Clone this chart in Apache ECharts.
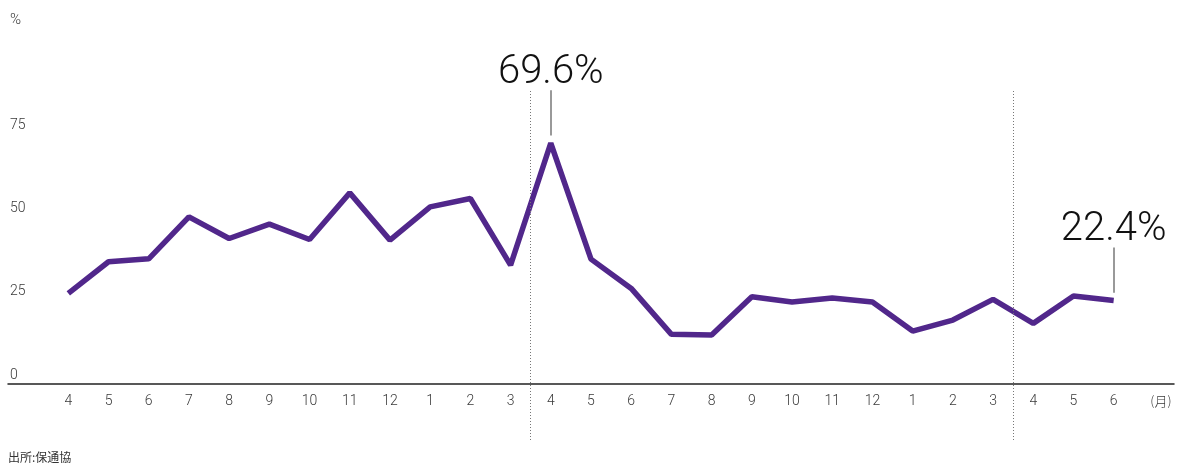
<!DOCTYPE html>
<html>
<head>
<meta charset="utf-8">
<script src="https://cdn.jsdelivr.net/npm/echarts@6/dist/echarts.min.js"></script>
<style>
html,body{margin:0;padding:0;background:#fff;}
#chart{width:1181px;height:463px;}
</style>
</head>
<body>
<div id="chart"></div>
<script>
// Months (fiscal years, April start)
const months = ['4','5','6','7','8','9','10','11','12','1','2','3',
                '4','5','6','7','8','9','10','11','12','1','2','3',
                '4','5','6'];
const unitLabel = '(月)';
// Values (%)
const values = [24.5, 34.0, 34.9, 47.5, 41.0, 45.3, 40.7, 54.7, 40.5, 50.5, 53.0, 33.0,
                69.6, 34.8, 26.0, 12.2, 12.0, 23.5, 21.9, 23.1, 21.9, 13.2, 16.5, 22.7,
                15.5, 23.7, 22.4];
const yTicks = [0, 25, 50, 75];
const annotated = [12, 26]; // indices in values to annotate
const fyStarts = [12, 24];  // indices where a new fiscal year begins

const cats = [''].concat(months, [unitLabel]);
const seriesData = [null].concat(values);

const chart = echarts.init(document.getElementById('chart'));
const grayText = '#3a3a3a';
const font = 'Roboto, "Noto Sans CJK JP", sans-serif';

const markLines = annotated.map(i => {
  const v = values[i];
  return [
    {coord: [i + 1, v + 2.3], symbol: 'none'},
    {coord: [i + 1, v + 15.9], symbol: 'none',
     label: {show: true, position: 'end', distance: -3, formatter: v.toFixed(1) + '%',
             fontSize: 40, fontWeight: 300, color: '#111', fontFamily: font}}
  ];
});

chart.setOption({
  animation: false,
  backgroundColor: '#fff',
  title: {
    text: '出所:保通協', left: 8, top: 451, padding: 0,
    textStyle: {fontSize: 12, fontWeight: 'normal', color: '#333', fontFamily: '"Noto Sans CJK JP", sans-serif'}
  },
  grid: [
    {left: 8, right: 7, top: 42, bottom: 88, containLabel: false},
    {left: 8, right: 7, top: 90, bottom: 23, containLabel: false}
  ],
  xAxis: [
    {
      type: 'category', gridIndex: 0, data: cats, boundaryGap: true, offset: 9,
      axisLine: {show: true, onZero: false, lineStyle: {color: '#222', width: 1.5}},
      axisTick: {show: false},
      splitLine: {show: false},
      axisLabel: {
        margin: 11, fontSize: 14, color: grayText, fontFamily: font, fontWeight: 300,
        interval: 0,
        formatter: v => v === unitLabel ? '{m|' + v + '}' : v,
        rich: {m: {fontSize: 13, color: grayText, fontFamily: '"Noto Sans CJK JP", sans-serif', padding: [0, 0, 0, 14]}}
      }
    },
    {
      type: 'value', gridIndex: 1, min: 0, max: cats.length, show: false
    }
  ],
  yAxis: [
    {
      type: 'value', gridIndex: 0, min: yTicks[0], max: 100, interval: 25,
      axisLine: {show: false}, axisTick: {show: false}, splitLine: {show: false},
      name: '%', nameLocation: 'end', nameGap: 14,
      nameTextStyle: {align: 'left', padding: [0, 0, 0, 2], fontSize: 15, color: grayText, fontFamily: font, fontWeight: 300},
      axisLabel: {
        showMaxLabel: false, align: 'left', margin: -2, fontSize: 14, color: grayText,
        fontFamily: font, fontWeight: 300,
        formatter: v => yTicks.indexOf(v) !== -1 ? String(v) : ''
      }
    },
    {
      type: 'value', gridIndex: 1, show: false, min: 0, max: 1
    }
  ],
  series: [{
    type: 'line', xAxisIndex: 0, yAxisIndex: 0, data: seriesData,
    symbol: 'none', connectNulls: false,
    lineStyle: {color: '#51278b', width: 5.5},
    itemStyle: {color: '#51278b'},
    markLine: {
      silent: true, symbol: 'none',
      lineStyle: {color: '#999', width: 2, type: 'solid'},
      label: {show: false},
      data: markLines
    }
  }, {
    type: 'line', xAxisIndex: 1, yAxisIndex: 1, data: [],
    markLine: {
      silent: true, symbol: 'none',
      label: {show: false},
      lineStyle: {color: '#777', width: 1, type: [1, 2]},
      data: fyStarts.map(i => ({xAxis: i + 1}))
    }
  }]
});
</script>
</body>
</html>
